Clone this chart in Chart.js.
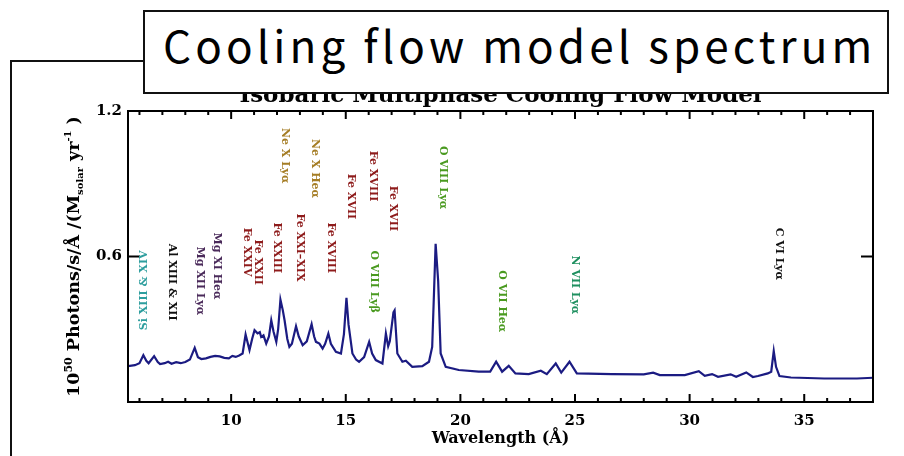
<!DOCTYPE html>
<html>
<head>
<meta charset="utf-8">
<script src="https://cdn.jsdelivr.net/npm/chart.js@4.4.1/dist/chart.umd.min.js"></script>
<style>
  html, body { margin: 0; padding: 0; background: #fff; }
  #wrap { position: relative; width: 904px; height: 456px; overflow: hidden; }
  #chart { position: absolute; left: 0; top: 0; }
  .bracket { position: absolute; left: 10px; top: 60px; width: 140px; height: 420px;
             border-left: 2px solid #111; border-top: 2px solid #111; }
  .titlebox { position: absolute; left: 143px; top: 10px; width: 746px; height: 84px;
              box-sizing: border-box; border: 2px solid #111; background: #fff;
              font-family: "Noto Sans CJK JP", "Noto Sans", sans-serif; font-size: 44px;
              line-height: 64px; padding-left: 18px; letter-spacing: 4.1px; color: #000;
              white-space: nowrap; }
</style>
</head>
<body>
<div id="wrap">
  <canvas id="chart" width="904" height="456"></canvas>
  <div class="bracket"></div>
  <div class="titlebox">Cooling flow model spectrum</div>
</div>
<script>
// Espectro (longitud de onda en Å, flujo)
const wavelengths = [5.5, 5.8, 6.0, 6.17, 6.3, 6.4, 6.64, 6.8, 6.9, 7.1, 7.25, 7.4, 7.6, 7.8, 8.0, 8.2, 8.41, 8.55,
  8.7, 8.9, 9.1, 9.3, 9.5, 9.7, 9.9, 10.05, 10.2, 10.35, 10.5, 10.63, 10.8, 10.92, 11.02, 11.15, 11.25, 11.31,
  11.41, 11.53, 11.65, 11.75, 11.85, 11.97, 12.05, 12.15, 12.25, 12.33, 12.45, 12.54, 12.65, 12.83, 12.95, 13.12,
  13.3, 13.51, 13.62, 13.7, 13.85, 13.99, 14.1, 14.24, 14.35, 14.57, 14.79, 14.92, 15.03, 15.12, 15.29, 15.45,
  15.58, 15.8, 16.02, 16.15, 16.31, 16.6, 16.75, 16.85, 16.92, 17.08, 17.13, 17.25, 17.47, 17.62, 17.9, 18.34,
  18.63, 18.77, 18.92, 19.03, 19.14, 19.36, 19.93, 20.8, 21.3, 21.56, 21.82, 22.11, 22.4, 22.98, 23.51, 23.77,
  24.16, 24.4, 24.76, 25.08, 26.6, 28.0, 28.41, 28.7, 29.79, 30.4, 30.66, 30.98, 31.24, 31.79, 32.03, 32.47,
  32.76, 32.98, 33.41, 33.56, 33.67, 33.77, 33.92, 34.42, 35.87, 37.3, 38.0];
const flux = [0.148, 0.152, 0.160, 0.193, 0.170, 0.160, 0.189, 0.165, 0.156, 0.160, 0.166, 0.158, 0.164, 0.160,
  0.165, 0.175, 0.223, 0.185, 0.177, 0.180, 0.186, 0.190, 0.188, 0.182, 0.180, 0.190, 0.186, 0.192, 0.200, 0.278,
  0.214, 0.262, 0.296, 0.283, 0.288, 0.268, 0.275, 0.241, 0.270, 0.337, 0.290, 0.248, 0.300, 0.422, 0.380, 0.337,
  0.260, 0.227, 0.240, 0.312, 0.270, 0.234, 0.250, 0.321, 0.270, 0.248, 0.241, 0.220, 0.240, 0.282, 0.240, 0.207,
  0.200, 0.280, 0.430, 0.320, 0.200, 0.175, 0.166, 0.185, 0.248, 0.200, 0.173, 0.159, 0.282, 0.230, 0.250, 0.370,
  0.378, 0.200, 0.166, 0.170, 0.145, 0.148, 0.166, 0.227, 0.652, 0.500, 0.200, 0.145, 0.132, 0.125, 0.125, 0.166,
  0.125, 0.149, 0.118, 0.115, 0.129, 0.115, 0.159, 0.121, 0.166, 0.118, 0.115, 0.114, 0.121, 0.111, 0.111, 0.127,
  0.108, 0.115, 0.104, 0.114, 0.104, 0.122, 0.103, 0.107, 0.118, 0.125, 0.210, 0.145, 0.107, 0.101, 0.097, 0.097,
  0.100];

const xTickValues = [10, 15, 20, 25, 30, 35];
const yTickValues = [0.6, 1.2];

// Identificacion de lineas: texto, longitud de onda, altura superior del rotulo, color
const lineNames = ['Si XIII & XIV', 'Al XIII & XII', 'Mg XII Lyα', 'Mg XI Heα', 'Fe XXIV', 'Fe XXII', 'Fe XXIII',
  'Fe XXI–XIX', 'Fe XVIII', 'O VIII Lyβ', 'Ne X Lyα', 'Ne X Heα', 'Fe XVII', 'Fe XVIII', 'Fe XVII', 'O VIII Lyα',
  'O VII Heα', 'N VII Lyα', 'C VI Lyα'];
const lineWavelengths = [6.2, 7.42, 8.64, 9.38, 10.69, 11.17, 12.0, 13.0, 14.36, 16.23, 12.35, 13.66, 15.23,
  16.19, 17.06, 19.24, 21.82, 25.0, 33.9];
const lineLabelTops = [0.625, 0.653, 0.641, 0.699, 0.719, 0.67, 0.74, 0.777, 0.74, 0.625, 1.13, 1.085, 0.941,
  1.036, 0.892, 1.056, 0.543, 0.604, 0.719];
const lineColors = ['#2e9e9e', '#111111', '#4a2a5a', '#4a2a5a', '#8e1b1b', '#8e1b1b', '#8e1b1b', '#8e1b1b',
  '#8e1b1b', '#4a9a20', '#a57d25', '#a57d25', '#8e1b1b', '#8e1b1b', '#8e1b1b', '#4a9a20', '#4a9a20', '#1f9060',
  '#111111'];

const serif = '"DejaVu Serif", "Liberation Serif", serif';

document.addEventListener('DOMContentLoaded', () => {
    const ctx = document.getElementById('chart').getContext('2d');

    // Marco estilo IDL con marcas hacia dentro
    const framePlugin = {
        id: 'frame',
        afterDatasetsDraw(chart) {
            const c = chart.ctx, a = chart.chartArea;
            const xs = chart.scales.x, ys = chart.scales.y;
            c.save();
            c.strokeStyle = '#000';
            c.lineWidth = 2;
            c.strokeRect(a.left, a.top, a.right - a.left, a.bottom - a.top);
            for (let v = Math.ceil(xs.min); v <= xs.max; v++) {
                const px = xs.getPixelForValue(v);
                const len = v % 5 === 0 ? 8 : 4;
                c.beginPath();
                c.moveTo(px, a.bottom); c.lineTo(px, a.bottom - len);
                c.moveTo(px, a.top); c.lineTo(px, a.top + len);
                c.stroke();
            }
            yTickValues.forEach(v => {
                const py = ys.getPixelForValue(v);
                c.beginPath();
                c.moveTo(a.left, py); c.lineTo(a.left + 12, py);
                c.moveTo(a.right, py); c.lineTo(a.right - 12, py);
                c.stroke();
            });
            c.restore();
        }
    };

    // Rotulos verticales de las lineas de emision
    const labelsPlugin = {
        id: 'lineLabels',
        afterDatasetsDraw(chart) {
            const c = chart.ctx;
            const xs = chart.scales.x, ys = chart.scales.y;
            c.save();
            c.font = 'bold 11px ' + serif;
            c.textBaseline = 'middle';
            lineNames.forEach((name, i) => {
                const px = xs.getPixelForValue(lineWavelengths[i]);
                const py = ys.getPixelForValue(lineLabelTops[i]);
                c.save();
                c.translate(px, py);
                c.fillStyle = lineColors[i];
                if (i === 0) {
                    c.rotate(-Math.PI / 2);
                    c.textAlign = 'right';
                } else {
                    c.rotate(Math.PI / 2);
                    c.textAlign = 'left';
                }
                c.fillText(name, 0, 0);
                c.restore();
            });
            c.restore();
        }
    };

    // Titulo del grafico y titulo del eje Y con super/subindices
    const textPlugin = {
        id: 'texts',
        afterDraw(chart) {
            const c = chart.ctx, a = chart.chartArea;
            c.save();
            c.fillStyle = '#000';
            c.font = 'bold 23px ' + serif;
            c.textAlign = 'center';
            c.textBaseline = 'alphabetic';
            c.fillText('Isobaric Multiphase Cooling Flow Model', (a.left + a.right) / 2, 102);

            const parts = [
                { t: '10', s: 17.5, dy: 0 },
                { t: '50', s: 11, dy: -7 },
                { t: ' Photons/s/Å /(M', s: 17.5, dy: 0 },
                { t: 'solar', s: 10, dy: 4 },
                { t: ' yr', s: 17.5, dy: 0 },
                { t: '-1', s: 10, dy: -8 },
                { t: ' )', s: 17.5, dy: 0 }
            ];
            let total = 0;
            parts.forEach(p => { c.font = 'bold ' + p.s + 'px ' + serif; p.w = c.measureText(p.t).width; total += p.w; });
            const cy = (a.top + a.bottom) / 2;
            c.translate(79, cy);
            c.rotate(-Math.PI / 2);
            c.textAlign = 'left';
            let x = -total / 2;
            parts.forEach(p => {
                c.font = 'bold ' + p.s + 'px ' + serif;
                c.fillText(p.t, x, p.dy);
                x += p.w;
            });
            c.restore();
        }
    };

    new Chart(ctx, {
        type: 'line',
        data: {
            datasets: [{
                label: 'Espectro',
                data: wavelengths.map((w, i) => ({ x: w, y: flux[i] })),
                borderColor: '#1b1b82',
                borderWidth: 2.2,
                pointRadius: 0,
                tension: 0,
                fill: false
            }]
        },
        options: {
            responsive: false,
            animation: false,
            layout: { padding: { top: 111, right: 31, left: 0, bottom: 0 } },
            plugins: {
                legend: { display: false },
                tooltip: { enabled: false }
            },
            scales: {
                x: {
                    type: 'linear',
                    min: 5.5,
                    max: 38,
                    afterBuildTicks: s => { s.ticks = xTickValues.map(v => ({ value: v })); },
                    afterFit: s => { s.height = 54; },
                    grid: { display: false, drawTicks: false },
                    border: { display: false },
                    ticks: { color: '#000', padding: 10, maxRotation: 0, font: { family: serif, size: 15, weight: 'bold' } },
                    title: {
                        display: true,
                        text: 'Wavelength (Å)',
                        color: '#000',
                        font: { family: serif, size: 16, weight: 'bold' },
                        padding: { top: 0, bottom: 8 }
                    }
                },
                y: {
                    min: 0,
                    max: 1.2,
                    afterBuildTicks: s => { s.ticks = yTickValues.map(v => ({ value: v })); },
                    afterFit: s => { s.width = 128; },
                    grid: { display: false, drawTicks: false },
                    border: { display: false },
                    ticks: {
                        color: '#000',
                        padding: 6,
                        font: { family: serif, size: 15, weight: 'bold' },
                        callback: v => Number(v).toFixed(1)
                    }
                }
            }
        },
        plugins: [framePlugin, labelsPlugin, textPlugin]
    });
});
</script>
</body>
</html>
